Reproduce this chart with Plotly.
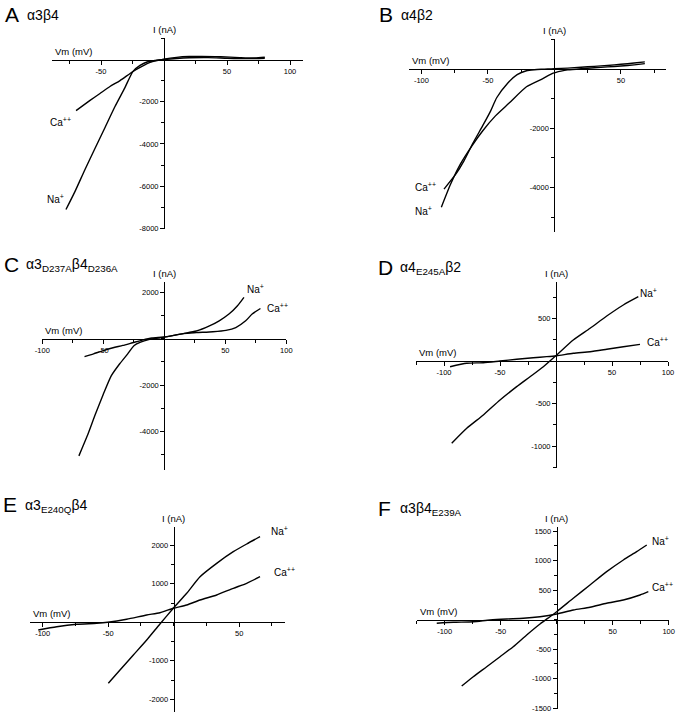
import plotly.graph_objects as go

W, H = 677, 720

# ---------------- data (Vm in mV, I in nA) ----------------
# Panel A  α3β4
A_na_v = [-77.8, -70.6, -62.7, -54.8, -46.8, -38.9, -31.0, -24.6, -19.0, -13.5, -7.1, 0, 10, 20, 35, 50, 65, 80]
A_na_i = [-7110, -6250, -5210, -4220, -3220, -2230, -1330, -560, -280, -120, -50, 0, 50, 80, 90, 60, 40, 60]
A_ca_v = [-69.8, -58.7, -50.8, -42.9, -34.9, -24.6, -17.5, -11.1, -5.6, 0, 10, 20, 30, 45, 60, 72, 80]
A_ca_i = [-2420, -1940, -1610, -1280, -1000, -570, -330, -140, -50, 20, 100, 140, 150, 130, 90, 70, 110]

# Panel B  α4β2
B_ca_v = [-83, -74, -68, -61, -54, -48, -43.4, -35, -28, -21, -15, -10, -5, 0, 10, 20, 30, 40, 50, 60, 68]
B_ca_i = [-4050, -3540, -3100, -2480, -1920, -1420, -970, -470, -190, -60, -25, -10, 0, 10, 30, 60, 90, 120, 160, 200, 240]
B_na_v = [-85, -78, -70.6, -62, -54, -44.5, -34, -21, -9, -1, 5, 10, 20, 30, 40, 50, 60, 68]
B_na_i = [-4660, -3880, -3200, -2590, -2090, -1590, -1150, -600, -330, -140, -70, -30, 10, 40, 70, 100, 140, 180]

# Panel C  α3(D237A)β4(D236A)
C_na_v = [-70, -63.3, -56.6, -50, -43.4, -36.7, -30, -24.7, -19.4, -12.8, -4.8, 0, 15.6, 26.3, 37, 45, 53, 60, 65.3]
C_na_i = [-5040, -4200, -3260, -2390, -1590, -1090, -650, -290, -145, -40, 30, 70, 220, 330, 550, 770, 1060, 1420, 1780]
C_ca_v = [-65.4, -58, -50, -42, -34, -26, -18, -10, 0, 15.6, 26.3, 39.8, 50.5, 58.6, 66.7, 72, 78.8]
C_ca_i = [-770, -650, -510, -390, -290, -175, -60, 30, 70, 220, 260, 300, 360, 480, 770, 1060, 1300]

# Panel D  α4(E245A)β2
D_na_v = [-93.1, -79.7, -64.9, -50, -35.1, -23.2, -11.3, 0.6, 15.4, 30.4, 45.3, 60.1, 73.5]
D_na_i = [-968, -792, -635, -459, -302, -185, -67, 71, 247, 385, 529, 659, 756]
D_ca_v = [-94.6, -79.7, -64.9, -50, -35.1, -20.3, -8.3, 0.6, 15.4, 30.4, 45.3, 60.1, 75]
D_ca_i = [-67, -27, -20, 0, 20, 39, 51, 62, 91, 109, 138, 168, 196]

# Panel E  α3(E240Q)β4
E_na_v = [-49.9, -41, -30.8, -20.6, -10.5, -0.3, 9.9, 20.1, 32.8, 45.5, 55.7, 65.9]
E_na_i = [-1584, -1239, -849, -460, -44, 364, 753, 1184, 1532, 1834, 2034, 2223]
E_ca_v = [-103.4, -89.3, -74, -58.8, -50.4, -35.9, -20.6, -10.5, -0.3, 9.9, 20.1, 32.8, 45.5, 55.7, 65.9]
E_ca_i = [-200, -114, -52, -26, 0, 78, 190, 249, 364, 449, 579, 709, 883, 1013, 1184]

# Panel F  α3β4(E239A)
F_na_v = [-84.8, -74.5, -62.5, -50.6, -38.8, -26.8, -14.9, -6, 0, 14.8, 29.7, 44.6, 59.5, 71.4, 80.4]
F_na_i = [-1124, -966, -797, -627, -458, -259, -73, 51, 136, 363, 588, 814, 1012, 1153, 1266]
F_ca_v = [-107.1, -92.3, -74.5, -59.6, -44.6, -29.8, -14.9, 0, 14.8, 29.7, 44.6, 59.5, 74.4, 81.8]
F_ca_i = [-61, -44, -34, -5, 12, 24, 51, 97, 164, 210, 278, 334, 419, 475]

# tick labels
A_xticks = [-50, 50, 100]
A_yticks = [-2000, -4000, -6000, -8000]
B_xticks = [-100, -50, 50]
B_yticks = [-2000, -4000]
C_xticks = [-100, -50, 50, 100]
C_yticks = [2000, -2000, -4000]
D_xticks = [-100, -50, 50, 100]
D_yticks = [500, -500, -1000]
E_xticks = [-100, -50, 50]
E_yticks = [2000, 1000, -1000, -2000]
F_xticks = [-100, -50, 50, 100]
F_yticks = [1500, 1000, 500, -500, -1000, -1500]

# ---------------- panel layout (origin in pixels, px per unit) ----------------
panels = [
    dict(letter="A", title="α3β4", na=(A_na_v, A_na_i), ca=(A_ca_v, A_ca_i),
         xt=A_xticks, yt=A_yticks, xr=[-89, 110], yr=[-8050, 1000],
         origin=(164, 59.5), sx=1.26, sy=0.0211, xminor=25, yminor=1000,
         lab_na=(-86.5, -6630), lab_ca=(-82, -2940), head=(3, 14)),
    dict(letter="B", title="α4β2", na=(B_na_v, B_na_i), ca=(B_ca_v, B_ca_i),
         xt=B_xticks, yt=B_yticks, xr=[-109, 84], yr=[-5500, 1000],
         origin=(554.4, 69), sx=1.33, sy=0.02965, xminor=25, yminor=1000,
         lab_na=(-98.5, -4790), lab_ca=(-96.6, -3980), head=(377, 14)),
    dict(letter="C", title="α3<sub>D237A</sub>β4<sub>D236A</sub>", na=(C_na_v, C_na_i), ca=(C_ca_v, C_ca_i),
         xt=C_xticks, yt=C_yticks, xr=[-100, 100], yr=[-5650, 2450],
         origin=(164.3, 338.7), sx=1.22, sy=0.02325, xminor=25, yminor=1000,
         lab_na=(74.8, 2140), lab_ca=(92.8, 1320), head=(2, 264)),
    dict(letter="D", title="α4<sub>E245A</sub>β2", na=(D_na_v, D_na_i), ca=(D_ca_v, D_ca_i),
         xt=D_xticks, yt=D_yticks, xr=[-125, 100], yr=[-1260, 930],
         origin=(556, 361), sx=1.12, sy=0.085, xminor=25, yminor=250,
         lab_na=(82.6, 804), lab_ca=(90.6, 224), head=(376, 267)),
    dict(letter="E", title="α3<sub>E240Q</sub>β4", na=(E_na_v, E_na_i), ca=(E_ca_v, E_ca_i),
         xt=E_xticks, yt=E_yticks, xr=[-110, 85], yr=[-2330, 2480],
         origin=(173.7, 622.3), sx=1.31, sy=0.0385, xminor=25, yminor=500,
         lab_na=(80.8, 2370), lab_ca=(84.2, 1314), head=(1, 505)),
    dict(letter="F", title="α3β4<sub>E239A</sub>", na=(F_na_v, F_na_i), ca=(F_ca_v, F_ca_i),
         xt=F_xticks, yt=F_yticks, xr=[-125, 100], yr=[-1520, 1570],
         origin=(556.7, 619.7), sx=1.12, sy=0.059, xminor=25, yminor=250,
         lab_na=(92.7, 1339), lab_ca=(94.9, 554), head=(376, 508)),
]

FONT = "Arial, Liberation Sans, Helvetica, sans-serif"
fig = go.Figure()
layout = dict(template="none", width=W, height=H, margin=dict(l=0, r=0, t=0, b=0, pad=0),
              paper_bgcolor="white", plot_bgcolor="white", showlegend=False,
              font=dict(family=FONT, color="black"))
annotations = []


def fx(px):
    return px / W


def fy(py):
    return 1 - py / H


for k, p in enumerate(panels):
    n = "" if k == 0 else str(k + 1)
    xa, ya = "x" + n, "y" + n
    ox, oy = p["origin"]
    sx, sy = p["sx"], p["sy"]
    xr, yr = p["xr"], p["yr"]
    dx = [fx(ox + xr[0] * sx), fx(ox + xr[1] * sx)]
    dy = [fy(oy - yr[0] * sy), fy(oy - yr[1] * sy)]

    for v, i in (p["na"], p["ca"]):
        fig.add_trace(go.Scatter(x=v, y=i, mode="lines", xaxis=xa, yaxis=ya,
                                 line=dict(color="black", width=1.4, shape="spline", smoothing=0.6),
                                 hoverinfo="skip"))

    common = dict(showgrid=False, zeroline=False, showline=True, linecolor="black", linewidth=1,
                  ticks="outside", ticklen=4, tickwidth=1, tickcolor="black",
                  tickfont=dict(family=FONT, size=7.5, color="black"),
                  anchor="free", fixedrange=True, automargin=False)
    layout["xaxis" + n] = dict(common, domain=dx, range=xr, position=fy(oy),
                               tickmode="array", tickvals=p["xt"], ticktext=[str(t) for t in p["xt"]],
                               minor=dict(ticks="outside", ticklen=3, tickcolor="black",
                                          tickmode="linear", tick0=0, dtick=p["xminor"]))
    layout["yaxis" + n] = dict(common, domain=dy, range=yr, position=fx(ox),
                               tickmode="array", tickvals=p["yt"], ticktext=[str(t) for t in p["yt"]],
                               minor=dict(ticks="outside", ticklen=3, tickcolor="black",
                                          tickmode="linear", tick0=0, dtick=p["yminor"]))

    # axis titles
    annotations.append(dict(text="I (nA)", x=0, y=yr[1], xref=xa, yref=ya, xanchor="center",
                            yanchor="bottom", yshift=1, showarrow=False, font=dict(size=9.5)))
    annotations.append(dict(text="Vm (mV)", x=xr[0], y=0, xref=xa, yref=ya, xanchor="left",
                            yanchor="bottom", xshift=1, yshift=1, showarrow=False, font=dict(size=9.5)))
    # curve labels
    annotations.append(dict(text="Na<sup>+</sup>", x=p["lab_na"][0], y=p["lab_na"][1], xref=xa, yref=ya,
                            showarrow=False, font=dict(size=10)))
    annotations.append(dict(text="Ca<sup>++</sup>", x=p["lab_ca"][0], y=p["lab_ca"][1], xref=xa, yref=ya,
                            showarrow=False, font=dict(size=10)))
    # panel heading
    hx, hy = p["head"]
    annotations.append(dict(text=p["letter"], x=fx(hx), y=fy(hy), xref="paper", yref="paper",
                            xanchor="left", yanchor="middle", showarrow=False, font=dict(size=21)))
    annotations.append(dict(text=p["title"], x=fx(hx + 22), y=fy(hy + 1), xref="paper", yref="paper",
                            xanchor="left", yanchor="middle", showarrow=False, font=dict(size=14)))

layout["annotations"] = annotations
fig.update_layout(**layout)
# remove the default page margin so the 677x720 figure fills the window exactly
fig.write_html("out.html", config={"displayModeBar": False, "staticPlot": True},
               post_script="document.body.style.margin='0';document.body.style.overflow='hidden';")
